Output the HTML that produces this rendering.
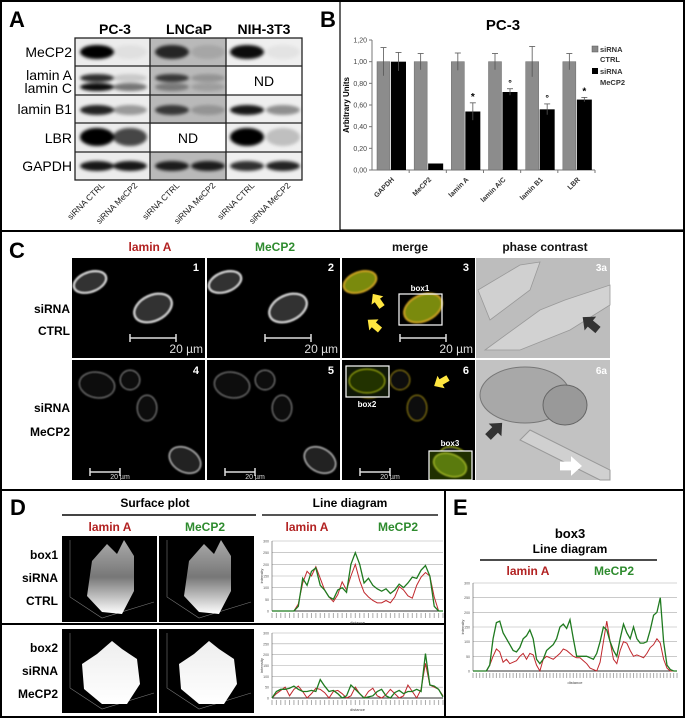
<!DOCTYPE html>
<html><head><meta charset="utf-8">
<style>
html,body{margin:0;padding:0;background:#fff;}
svg{display:block;font-family:"Liberation Sans",Arial,sans-serif;}
.b{font-weight:bold;}
</style></head>
<body>
<svg id="fig" width="685" height="718" viewBox="0 0 685 718" xmlns="http://www.w3.org/2000/svg">
<defs>
<filter id="blur1" x="-50%" y="-50%" width="200%" height="200%"><feGaussianBlur stdDeviation="1.6"/></filter>
<filter id="blur2" x="-50%" y="-50%" width="200%" height="200%"><feGaussianBlur stdDeviation="0.8"/></filter>
<linearGradient id="surf" x1="0" y1="0" x2="0" y2="1"><stop offset="0" stop-color="#aaa"/><stop offset="0.5" stop-color="#777"/><stop offset="1" stop-color="#fff"/></linearGradient>
<linearGradient id="surf2" x1="0" y1="0" x2="0" y2="1"><stop offset="0" stop-color="#eee"/><stop offset="1" stop-color="#fff"/></linearGradient>
</defs>
<rect x="1" y="1" width="683" height="716" fill="#fff" stroke="#000" stroke-width="2"/>
<line x1="0" y1="231" x2="685" y2="231" stroke="#000" stroke-width="2"/>
<line x1="0" y1="490" x2="685" y2="490" stroke="#000" stroke-width="2"/>
<line x1="445" y1="490" x2="445" y2="718" stroke="#000" stroke-width="2"/>
<line x1="0" y1="624" x2="445" y2="624" stroke="#000" stroke-width="2"/>

<!-- Panel A -->
<g id="panelA">
<text x="9" y="27" font-size="22" class="b">A</text>
<text x="115" y="34" font-size="14" class="b" text-anchor="middle">PC-3</text>
<text x="189" y="34" font-size="14" class="b" text-anchor="middle">LNCaP</text>
<text x="264" y="34" font-size="14" class="b" text-anchor="middle">NIH-3T3</text>
<rect x="75" y="38" width="75" height="142" fill="#ececec"/>
<rect x="150" y="38" width="76" height="142" fill="#b9b9b9"/>
<rect x="226" y="38" width="76" height="142" fill="#efefef"/>
<rect x="226" y="67" width="76" height="28" fill="#fff"/>
<rect x="150" y="124" width="76" height="28" fill="#fff"/>
<g id="bands" filter="url(#blur1)"></g>
<g stroke="#222" stroke-width="1.3" fill="none">
<rect x="75" y="38" width="227" height="142"/>
<line x1="150" y1="38" x2="150" y2="180"/><line x1="226" y1="38" x2="226" y2="180"/>
<line x1="75" y1="66" x2="302" y2="66"/><line x1="75" y1="95" x2="302" y2="95"/>
<line x1="75" y1="123" x2="302" y2="123"/><line x1="75" y1="152" x2="302" y2="152"/>
</g>
<text x="264" y="86" font-size="14" text-anchor="middle">ND</text>
<text x="188" y="143" font-size="14" text-anchor="middle">ND</text>
<g font-size="14" text-anchor="end">
<text x="72" y="57">MeCP2</text>
<text x="72" y="80">lamin A</text>
<text x="72" y="93">lamin C</text>
<text x="72" y="114">lamin B1</text>
<text x="72" y="143">LBR</text>
<text x="72" y="171">GAPDH</text>
</g>
<g id="laneLabels" font-size="8.5" fill="#222"></g>
</g>

<!-- Panel B -->
<g id="panelB">
<text x="320" y="27" font-size="22" class="b">B</text>
<rect x="340" y="1" width="344" height="229" fill="none" stroke="#000" stroke-width="1.2"/>
<text x="503" y="30" font-size="15" class="b" text-anchor="middle">PC-3</text>
<text transform="translate(349,105) rotate(-90)" font-size="8" class="b" text-anchor="middle">Arbitrary Units</text>
<g id="bAxes"></g>
<g id="bBars"></g>
<rect x="592" y="46" width="6" height="6" fill="#888" stroke="#555" stroke-width="0.5"/>
<text x="600" y="52" font-size="7.5" class="b" fill="#333">siRNA</text>
<text x="600" y="62" font-size="7.5" class="b" fill="#333">CTRL</text>
<rect x="592" y="68" width="6" height="6" fill="#000"/>
<text x="600" y="74" font-size="7.5" class="b" fill="#333">siRNA</text>
<text x="600" y="85" font-size="7.5" class="b" fill="#333">MeCP2</text>
</g>

<!-- Panel C -->
<g id="panelC">
<text x="9" y="258" font-size="22" class="b">C</text>
<g font-size="12" class="b" text-anchor="middle">
<text x="150" y="251" fill="#b22222">lamin A</text>
<text x="275" y="251" fill="#2e8b2e">MeCP2</text>
<text x="410" y="251" fill="#111">merge</text>
<text x="545" y="251" fill="#111">phase contrast</text>
</g>
<g font-size="12" class="b" text-anchor="end">
<text x="70" y="313">siRNA</text>
<text x="70" y="335">CTRL</text>
<text x="70" y="412">siRNA</text>
<text x="70" y="436">MeCP2</text>
</g>
<g id="cImgs"></g>
</g>

<!-- Panel D -->
<g id="panelD">
<text x="10" y="515" font-size="22" class="b">D</text>
<text x="155" y="507" font-size="12" class="b" text-anchor="middle">Surface plot</text>
<line x1="62" y1="515" x2="256" y2="515" stroke="#444" stroke-width="2"/>
<text x="350" y="507" font-size="12" class="b" text-anchor="middle">Line diagram</text>
<line x1="262" y1="515" x2="438" y2="515" stroke="#555" stroke-width="2"/>
<g font-size="12" class="b" text-anchor="middle">
<text x="110" y="531" fill="#b22222">lamin A</text>
<text x="205" y="531" fill="#2e8b2e">MeCP2</text>
<text x="307" y="531" fill="#b22222">lamin A</text>
<text x="398" y="531" fill="#2e8b2e">MeCP2</text>
</g>
<g font-size="12" class="b" text-anchor="end">
<text x="58" y="559">box1</text>
<text x="58" y="582">siRNA</text>
<text x="58" y="605">CTRL</text>
<text x="58" y="652">box2</text>
<text x="58" y="675">siRNA</text>
<text x="58" y="698">MeCP2</text>
</g>
<g id="surfaces"></g>
<g id="lineD1"></g>
<g id="lineD2"></g>
</g>

<!-- Panel E -->
<g id="panelE">
<text x="453" y="515" font-size="22" class="b">E</text>
<text x="570" y="538" font-size="13" class="b" text-anchor="middle">box3</text>
<text x="570" y="553" font-size="12" class="b" text-anchor="middle">Line diagram</text>
<line x1="480" y1="560" x2="657" y2="560" stroke="#111" stroke-width="1.5"/>
<text x="528" y="575" font-size="12" class="b" fill="#b22222" text-anchor="middle">lamin A</text>
<text x="614" y="575" font-size="12" class="b" fill="#2e8b2e" text-anchor="middle">MeCP2</text>
<g id="lineE"></g>
</g>
</svg>
<script>
// ===== Panel B data =====
const bCategories = ["GAPDH","MeCP2","lamin A","lamin A/C","lamin B1","LBR"];
const bCtrl = [1.00,1.00,1.00,1.00,1.00,1.00];
const bCtrlErr = [0.13,0.075,0.08,0.075,0.14,0.075];
const bKd = [1.00,0.06,0.54,0.72,0.56,0.65];
const bKdErr = [0.085,0,0.08,0.03,0.05,0.02];
const bMarks = ["","","*","°","°","*"];
const bTicks = ["0,00","0,20","0,40","0,60","0,80","1,00","1,20"];

// ===== Panel D/E data =====
const d1Lamin = [0,0,0,0,0,0,30,120,170,150,190,140,90,60,40,70,125,90,150,200,130,80,60,45,35,35,45,35,60,105,90,65,55,110,145,165,150,60,0,0];
const d1Mecp2 = [0,0,0,0,0,0,20,140,110,170,185,110,90,60,50,90,100,80,200,250,200,120,140,110,95,85,95,75,90,115,100,120,145,140,175,195,150,20,0,0];
const d2Lamin = [0,20,35,50,10,40,55,30,0,20,45,40,25,0,30,35,20,0,10,50,20,0,30,45,10,0,15,40,20,0,10,60,30,0,40,160,60,50,40,10];
const d2Mecp2 = [0,30,40,40,45,55,40,30,30,35,30,85,55,30,35,20,0,10,60,40,20,0,5,10,30,40,10,0,25,35,20,30,30,40,30,205,60,55,40,5];
const eLamin = [0,0,0,0,0,20,50,75,65,30,40,25,30,35,50,60,40,60,55,20,0,40,50,45,40,50,60,75,70,60,50,45,45,35,25,10,5,0,30,100,170,100,40,25,70,100,95,70,50,55,50,45,60,80,90,110,95,40,10,0,0,0];
const eMecp2 = [0,0,0,0,0,20,110,165,170,130,110,90,70,65,80,110,120,140,110,40,25,40,70,80,90,110,150,160,145,175,110,50,50,50,50,45,40,60,100,150,140,100,70,50,110,160,130,110,150,110,95,95,100,140,190,200,250,100,20,5,0,0];
const lineTicks = [0,50,100,150,200,250,300];

const NS = "http://www.w3.org/2000/svg";
function mk(parent, tag, attrs){ const e=document.createElementNS(NS,tag); for(const k in attrs) e.setAttribute(k,attrs[k]); parent.appendChild(e); return e; }

// ----- Blot bands -----
const bandsG = document.getElementById('bands');
const lanes = [97,130,172,208,247,283];
const bandRows = [52,78,87,110,137,166];
// intensity per row per lane (0 = none)
const bandI = [
 [1,0.05,0.8,0.1,0.95,0.05],
 [0.8,0.15,0.7,0.2,0,0],
 [0.95,0.5,0.35,0.15,0,0],
 [0.85,0.35,0.7,0.2,0.9,0.4],
 [1,0.7,0,0,1,0.2],
 [0.9,0.9,0.85,0.85,0.8,0.85]
];
const bandH = [7,4,4,5,9,5];
bandRows.forEach((y,r)=>{ lanes.forEach((x,l)=>{ const v=bandI[r][l]; if(v<=0) return;
  const e=mk(bandsG,'ellipse',{cx:x,cy:y,rx:17,ry:bandH[r],fill:'#000','fill-opacity':v});
  
  
});});
const laneText = ["siRNA CTRL","siRNA MeCP2","siRNA CTRL","siRNA MeCP2","siRNA CTRL","siRNA MeCP2"];
const ll = document.getElementById('laneLabels');
lanes.forEach((x,i)=>{ const t=mk(ll,'text',{x:0,y:0,'text-anchor':'end',transform:`translate(${x+8},186) rotate(-45)`}); t.textContent=laneText[i];
  
  
});

// ----- Panel B chart -----
const bx0=372, bx1=595, by0=170, byTop=40, yMax=1.2;
const yB = v => by0 - v/yMax*(by0-byTop);
const gW = (bx1-bx0)/bCategories.length;
const ax = document.getElementById('bAxes');
mk(ax,'line',{x1:bx0,y1:byTop,x2:bx0,y2:by0,stroke:'#777','stroke-width':1});
mk(ax,'line',{x1:bx0,y1:by0,x2:bx1,y2:by0,stroke:'#777','stroke-width':1});
bTicks.forEach((t,i)=>{ const v=i*0.2; const y=yB(v);
  mk(ax,'line',{x1:bx0-3,y1:y,x2:bx0,y2:y,stroke:'#777'});
  const tx=mk(ax,'text',{x:bx0-5,y:y+2.5,'font-size':7,'text-anchor':'end',fill:'#444'}); tx.textContent=t;
  
  
});
const bb = document.getElementById('bBars');
bCategories.forEach((c,i)=>{ const g0=bx0+gW*i;
  mk(ax,'line',{x1:g0+gW,y1:by0,x2:g0+gW,y2:by0+3,stroke:'#777'});
  const r1=mk(bb,'rect',{x:g0+5,y:yB(bCtrl[i]),width:13,height:by0-yB(bCtrl[i]),fill:'#8c8c8c',stroke:'#666','stroke-width':0.5});
  
  
  const r2=mk(bb,'rect',{x:g0+19,y:yB(bKd[i]),width:15,height:by0-yB(bKd[i]),fill:'#000'});
  
  
  [[g0+11.5,bCtrl[i],bCtrlErr[i]],[g0+26.5,bKd[i],bKdErr[i]]].forEach(([x,v,e])=>{ if(e<=0) return;
    mk(bb,'line',{x1:x,y1:yB(v+e),x2:x,y2:yB(v-e),stroke:'#555','stroke-width':0.8});
    mk(bb,'line',{x1:x-3,y1:yB(v+e),x2:x+3,y2:yB(v+e),stroke:'#555','stroke-width':0.8});
  });
  if(bMarks[i]){ const m=mk(bb,'text',{x:g0+26.5,y:yB(bKd[i]+bKdErr[i])-3,'font-size':bMarks[i]=='*'?10:9,'text-anchor':'middle',class:'b'}); m.textContent=bMarks[i];
    
     }
  const t=mk(ax,'text',{x:0,y:0,'font-size':7,'text-anchor':'end',class:'b',fill:'#333',transform:`translate(${g0+gW/2+4},180) rotate(-45)`}); t.textContent=c;
  
  
});

// ----- Panel C images -----
const cG=document.getElementById('cImgs');
const cols=[72,207,342,476], rows=[[258,100],[360,120]];
function panel(x,y,w,h,fill,name){ const r=mk(cG,'rect',{x,y,width:w,height:h,fill});   return r;}
function nuc(x,y,rx,ry,rot,stroke,fill,sw){ mk(cG,'ellipse',{cx:x,cy:y,rx,ry,transform:`rotate(${rot} ${x} ${y})`,fill,stroke,'stroke-width':sw,filter:'url(#blur2)'}); }
function label(x,y,t,size,fill,anchor,bold){ const e=mk(cG,'text',{x,y,'font-size':size,fill,'text-anchor':anchor||'start'}); if(bold) e.setAttribute('class','b'); e.textContent=t; return e;}
function scalebar(x1,x2,y,big){ mk(cG,'line',{x1,y1:y,x2,y2:y,stroke:'#ddd','stroke-width':1.5}); mk(cG,'line',{x1,y1:y-4,x2:x1,y2:y+4,stroke:'#ddd','stroke-width':1.5}); mk(cG,'line',{x1:x2,y1:y-4,x2:x2,y2:y+4,stroke:'#ddd','stroke-width':1.5}); }
for(let c=0;c<3;c++){
  const X=cols[c];
  panel(X,258,133,100,'#000','image-row1-col'+(c+1));
  panel(X,360,133,120,'#000','image-row2-col'+(c+1));
  const merge=c==2;
  const s1 = merge?'#c8a020':'#d8d8d8', f1 = merge?'#7a8a10':'#333';
  nuc(X+18,282,17,10,-20,s1,f1,2);
  nuc(X+81,308,20,13,-25,s1,f1,2);
  const s2 = merge?'#807010':'#777', f2='#111';
  nuc(X+25,385,18,13,10,s2,f2,1);
  nuc(X+58,380,10,10,0,s2,f2,1);
  nuc(X+75,408,10,13,0,s2,f2,1);
  nuc(X+113,460,17,12,30,merge?'#90a010':'#bbb','#222',1.2);
  scalebar(X+58,X+104,338);
  label(X+131,353,'20 µm',12,'#ddd','end');
  scalebar(X+18,X+48,472);
  label(X+48,479,'20 µm',7,'#ddd','middle');
  label(X+127,271,String(c+1),11,'#fff','end',true);
  label(X+127,374,String(c+4),11,'#fff','end',true);
}
// merge boxes
mk(cG,'rect',{x:399,y:294,width:43,height:31,fill:'none',stroke:'#fff','stroke-width':1.2});
label(420,291,'box1',8,'#fff','middle',true);
mk(cG,'rect',{x:346,y:366,width:43,height:31,fill:'#101808',stroke:'#fff','stroke-width':1.2});
nuc(367,381,18,12,0,'#8a9a10','#203000',1.2);
label(367,407,'box2',8,'#fff','middle',true);
mk(cG,'rect',{x:429,y:451,width:43,height:29,fill:'#203000',stroke:'#fff','stroke-width':1.2});
nuc(450,465,17,11,20,'#9ab020','#5a7a10',1.5);
label(450,446,'box3',8,'#fff','middle',true);
// yellow arrows
function arrow(x,y,rot,col,s){ const g=mk(cG,'polygon',{points:'0,-4 10,-4 10,-9 20,0 10,9 10,4 0,4',fill:col,transform:`translate(${x},${y}) rotate(${rot}) scale(${s})`});   }
arrow(382,307,-125,'#ffe640',0.8);
arrow(380,330,-140,'#ffe640',0.8);
arrow(448,378,150,'#ffe640',0.8);
// phase contrast
panel(476,258,134,100,'#bdbdbd','phase-row1');
panel(476,360,134,120,'#c2c2c2','phase-row2');
mk(cG,'polygon',{points:'478,290 520,265 540,262 530,290 490,320',fill:'#d0d0d0',stroke:'#999','stroke-width':0.8});
mk(cG,'polygon',{points:'485,350 540,310 565,300 610,285 610,305 570,330 520,350',fill:'#d2d2d2',stroke:'#999','stroke-width':0.8});
mk(cG,'ellipse',{cx:525,cy:395,rx:45,ry:28,fill:'#a8a8a8',stroke:'#777'});
mk(cG,'ellipse',{cx:565,cy:405,rx:22,ry:20,fill:'#999',stroke:'#666'});
mk(cG,'polygon',{points:'530,430 610,470 610,480 600,480 520,440',fill:'#d0d0d0',stroke:'#999'});
arrow(598,330,-140,'#333',1);
arrow(488,437,-45,'#333',1);
arrow(560,466,0,'#fff',1.1);
label(607,271,'3a',10,'#fff','end',true);
label(607,374,'6a',10,'#fff','end',true);

// ----- Surface plots -----
const sG=document.getElementById('surfaces');
[[62,536,86],[159,536,86],[62,629,84],[159,629,84]].forEach(([x,y,h],i)=>{
  const r=mk(sG,'rect',{x,y,width:95,height:h,fill:'#000'});
  
  
  mk(sG,'polyline',{points:`${x+8},${y+4} ${x+8},${y+h-25} ${x+40},${y+h-4} ${x+92},${y+h-20}`,fill:'none',stroke:'#777','stroke-width':0.6});
  if(i<2){
    mk(sG,'polygon',{points:`${x+30},${y+25} ${x+45},${y+8} ${x+55},${y+18} ${x+62},${y+4} ${x+72},${y+20} ${x+72},${y+55} ${x+60},${y+78} ${x+40},${y+76} ${x+25},${y+60}`,fill:'url(#surf)'});
  } else {
    mk(sG,'polygon',{points:`${x+20},${y+35} ${x+35},${y+25} ${x+50},${y+12} ${x+60},${y+20} ${x+75},${y+30} ${x+78},${y+55} ${x+65},${y+75} ${x+40},${y+75} ${x+22},${y+60}`,fill:'url(#surf2)'});
  }
});

// ----- Line charts -----
function lineChart(gid, x0, x1, yTop, yBot, red, green, name){
  const g=document.getElementById(gid);
  
  
  const yS=v=>yBot-(v/300)*(yBot-yTop);
  const n=red.length; const xS=i=>x0+(x1-x0)*i/(n-1);
  lineTicks.forEach(t=>{ mk(g,'line',{x1:x0,y1:yS(t),x2:x1,y2:yS(t),stroke:t==0?'#333':'#aaa','stroke-width':t==0?1:0.6});
    const tx=mk(g,'text',{x:x0-3,y:yS(t)+1.5,'font-size':3.5,'text-anchor':'end',fill:'#555'}); tx.textContent=t;
    
     });
  mk(g,'line',{x1:x0,y1:yTop,x2:x0,y2:yBot,stroke:'#555','stroke-width':0.6});
  for(let i=0;i<n;i++){ mk(g,'line',{x1:xS(i),y1:yBot+2,x2:xS(i),y2:yBot+7,stroke:'#aaa','stroke-width':1}); }
  const dt=mk(g,'text',{x:(x0+x1)/2,y:yBot+13,'font-size':4,'text-anchor':'middle',fill:'#444'}); dt.textContent='distance';
  
  
  const it=mk(g,'text',{x:0,y:0,'font-size':4,'text-anchor':'middle',fill:'#444',transform:`translate(${x0-9},${(yTop+yBot)/2}) rotate(-90)`}); it.textContent='intensity';
  
  
  const p1=mk(g,'polyline',{points:red.map((v,i)=>xS(i)+','+yS(v)).join(' '),fill:'none',stroke:'#c0282d','stroke-width':1});
  
  
  const p2=mk(g,'polyline',{points:green.map((v,i)=>xS(i)+','+yS(v)).join(' '),fill:'none',stroke:'#1f7a1f','stroke-width':1.3});
  
  
}
lineChart('lineD1',272,443,541,611,d1Lamin,d1Mecp2,'line-chart-box1');
lineChart('lineD2',272,443,633,698,d2Lamin,d2Mecp2,'line-chart-box2');
lineChart('lineE',473,677,583,671,eLamin,eMecp2,'line-chart-box3');
</script>
</body></html>
